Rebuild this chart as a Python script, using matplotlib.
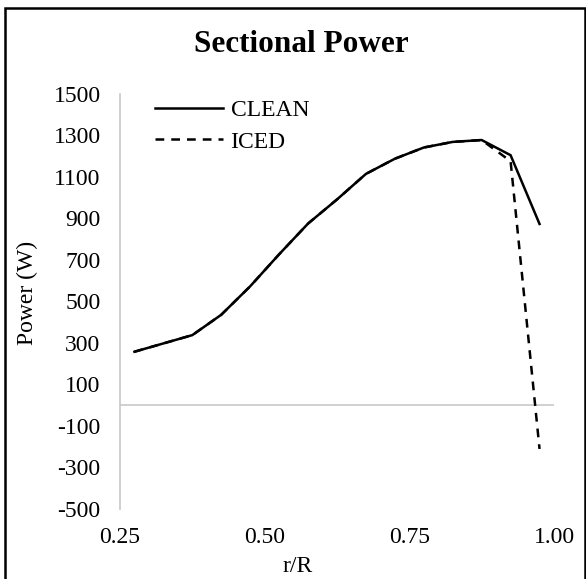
import matplotlib
matplotlib.use("Agg")
import matplotlib.pyplot as plt
from matplotlib.patches import Rectangle

plt.rcParams['font.family'] = ['Liberation Serif', 'DejaVu Serif']
plt.rcParams['axes.unicode_minus'] = False

# sectional power along the blade
r_R = [0.275, 0.375, 0.425, 0.475, 0.525, 0.575, 0.625, 0.675, 0.725, 0.775, 0.825, 0.875, 0.925, 0.975]
clean = [257, 337, 435, 572, 726, 874, 990, 1113, 1186, 1240, 1267, 1276, 1203, 872]
iced = [257, 337, 435, 572, 726, 874, 990, 1113, 1186, 1240, 1267, 1276, 1174, -211]

y_ticks = [-500, -300, -100, 100, 300, 500, 700, 900, 1100, 1300, 1500]
x_ticks = [0.25, 0.50, 0.75, 1.00]

W, H = 586, 579
fig = plt.figure(figsize=(W / 100, H / 100), dpi=100)

# plot area in pixels of the reference
x0, x1 = 120, 554
y_top, y_bot = 93.5, 509
ax = fig.add_axes([x0 / W, 1 - y_bot / H, (x1 - x0) / W, (y_bot - y_top) / H])

ax.plot(r_R, clean, color='black', lw=1.8, label='CLEAN', solid_joinstyle='miter')
ax.plot(r_R, iced, color='black', lw=1.8, dashes=(3.5, 2.8), label='ICED')

ax.axhline(0, color='#c8c8c8', lw=1.2, zorder=0)

ax.set_xlim(0.25, 1.0)
ax.set_ylim(-500, 1500)
ax.set_xticks(x_ticks)
ax.set_xticklabels(['%.2f' % v for v in x_ticks])
ax.set_yticks(y_ticks)

for s in ['top', 'right', 'bottom']:
    ax.spines[s].set_visible(False)
ax.spines['left'].set_color('#c8c8c8')
ax.spines['left'].set_linewidth(1.2)

ax.tick_params(axis='both', length=0, labelsize=17)
ax.tick_params(axis='y', pad=14)
ax.tick_params(axis='x', pad=13)

ax.set_ylabel('Power (W)', fontsize=17)
ax.yaxis.set_label_coords(-0.189, 0.52)
ax.set_xlabel('r/R', fontsize=17)
ax.xaxis.set_label_coords(0.41, -0.113)

fig.text(301 / W, 1 - 45 / H, 'Sectional Power', ha='center', va='center',
         fontsize=22.5, fontweight='bold')

ax.legend(loc='upper left', bbox_to_anchor=((155 - x0) / (x1 - x0), 0.985),
          frameon=False, fontsize=17, handlelength=2.9, handletextpad=0.3,
          borderpad=0, borderaxespad=0, labelspacing=0.42)

# chart border
fig.patches.append(Rectangle((4.5 / W, 1 - 586 / H), 580 / W, 578 / H,
                             transform=fig.transFigure, fill=False,
                             edgecolor='black', lw=1.8))

fig.savefig('out.png', dpi=100)
